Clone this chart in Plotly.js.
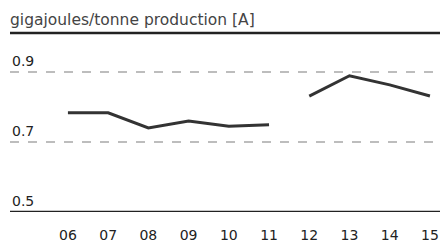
<!DOCTYPE html>
<html><head><meta charset="utf-8">
<script src="https://cdn.plot.ly/plotly-3.0.1.min.js"></script>
<style>html,body{margin:0;padding:0;background:#fff}#c{width:440px;height:243px}</style>
</head><body><div id="c"></div>
<script>
var years = ['06','07','08','09','10','11','12','13','14','15'];
var seriesA = [0.783,0.783,0.740,0.760,0.745,0.749,null,null,null,null];
var seriesB = [null,null,null,null,null,null,0.831,0.889,0.863,0.831];
var gridVals = [0.7,0.9];
var labelVals = [0.5,0.7,0.9];
var labelText = ['0.5','0.7','0.9'];
var titleText = 'gigajoules/tonne production [A]';

var FONT = 'DejaVu Sans, sans-serif';
var lineStyle = {color:'#333333', width:3};
var traces = [
  {x:years, y:seriesA, type:'scatter', mode:'lines', line:lineStyle, connectgaps:false, hoverinfo:'skip'},
  {x:years, y:seriesB, type:'scatter', mode:'lines', line:lineStyle, connectgaps:false, hoverinfo:'skip'}
];
var annotations = labelVals.map(function(v,i){
  return {xref:'paper', x:0, xanchor:'left', yref:'y', y:v, yanchor:'bottom', yshift:1,
          text:labelText[i], showarrow:false, font:{family:FONT, size:14, color:'#222'}};
});
var layout = {
  width:440, height:243,
  margin:{l:10, r:0, t:33, b:31},
  paper_bgcolor:'#fff', plot_bgcolor:'#fff',
  showlegend:false,
  title:{text:titleText, xref:'container', x:10/440, xanchor:'left', yref:'container', y:1-20/243, yanchor:'middle',
         font:{family:FONT, size:15.5, color:'#444'}},
  xaxis:{type:'category', range:[-1.44,9.25], showgrid:false, zeroline:false, showline:false,
         ticks:'outside', ticklen:10, tickcolor:'rgba(0,0,0,0)',
         tickfont:{family:FONT, size:14, color:'#222'}, fixedrange:true},
  yaxis:{range:[0.5,1.011], tickvals:gridVals, showticklabels:false, showgrid:true, griddash:'dash',
         gridcolor:'#bdbdbd', gridwidth:1.5, zeroline:false, showline:false, ticks:'', fixedrange:true},
  shapes:[
    {type:'line', xref:'paper', x0:0, x1:1, yref:'y', y0:0.5, y1:0.5, line:{color:'#222', width:2.5}},
    {type:'line', xref:'paper', x0:0, x1:1, yref:'paper', y0:1, y1:1, line:{color:'#222', width:2.5}}
  ],
  annotations:annotations
};
Plotly.newPlot('c', traces, layout, {staticPlot:true, displayModeBar:false});
</script></body></html>
